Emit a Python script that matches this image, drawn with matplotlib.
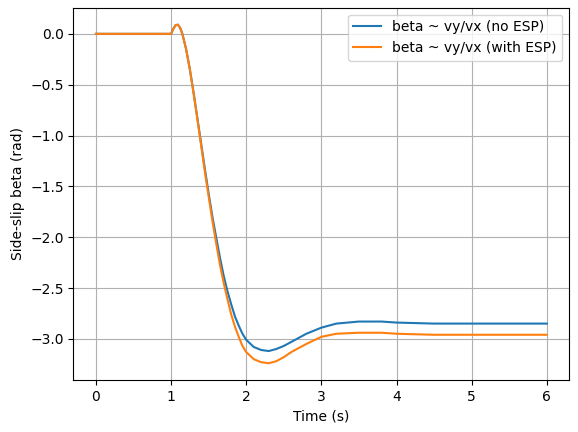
import matplotlib
matplotlib.use("Agg")
import matplotlib.pyplot as plt

t = [0, 1.0, 1.03, 1.06, 1.09, 1.12, 1.15, 1.2, 1.25, 1.3, 1.35, 1.4, 1.45, 1.5,
     1.55, 1.6, 1.65, 1.7, 1.75, 1.8, 1.85, 1.9, 1.95, 2.0, 2.1, 2.2, 2.3, 2.4,
     2.5, 2.6, 2.8, 3.0, 3.2, 3.5, 3.8, 4.0, 4.5, 5.0, 6.0]
beta_no_esp = [0, 0, 0.05, 0.085, 0.09, 0.06, 0.0, -0.15, -0.35, -0.58, -0.83,
               -1.08, -1.33, -1.57, -1.8, -2.0, -2.2, -2.38, -2.53, -2.66, -2.78,
               -2.87, -2.95, -3.01, -3.08, -3.11, -3.12, -3.10, -3.07, -3.03,
               -2.95, -2.89, -2.85, -2.83, -2.83, -2.84, -2.85, -2.85, -2.85]
beta_esp = [0, 0, 0.05, 0.085, 0.09, 0.06, 0.0, -0.15, -0.35, -0.59, -0.84,
            -1.1, -1.36, -1.6, -1.84, -2.06, -2.27, -2.45, -2.61, -2.76, -2.88,
            -2.98, -3.07, -3.13, -3.2, -3.23, -3.24, -3.22, -3.18, -3.13,
            -3.05, -2.98, -2.95, -2.94, -2.94, -2.95, -2.96, -2.96, -2.96]

fig, ax = plt.subplots(figsize=(5.78, 4.32), dpi=100)
ax.plot(t, beta_no_esp, label="beta ~ vy/vx (no ESP)")
ax.plot(t, beta_esp, label="beta ~ vy/vx (with ESP)")
ax.set_xlabel("Time (s)")
ax.set_ylabel("Side-slip beta (rad)")
ax.grid(True)
ax.legend()
fig.subplots_adjust(left=0.127, right=0.985, top=0.982, bottom=0.12)
fig.savefig("out.png")
